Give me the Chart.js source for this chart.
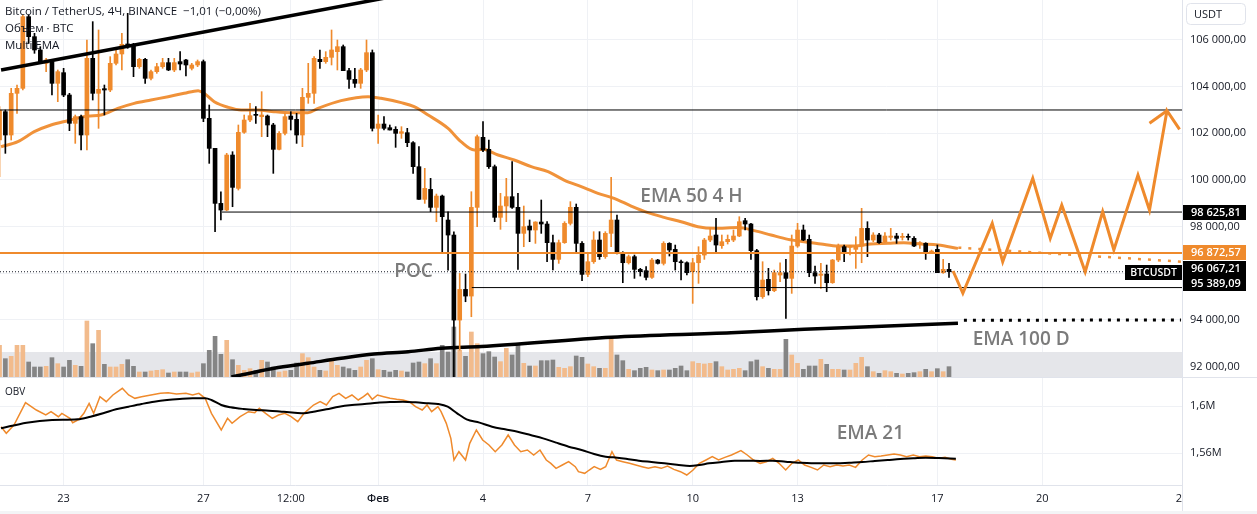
<!DOCTYPE html>
<html><head><meta charset="utf-8">
<script src="https://cdn.jsdelivr.net/npm/chart.js@4.4.1/dist/chart.umd.min.js"></script>
<style>
html,body{margin:0;padding:0;background:#fff;width:1257px;height:514px;overflow:hidden}
#wrap{position:relative;width:1257px;height:514px}
canvas{position:absolute;left:0}
#main{top:0}
#obv{top:377px}
</style></head><body>
<div id="wrap"><canvas id="main" width="1257" height="377"></canvas><canvas id="obv" width="1257" height="137"></canvas></div>
<script>
// ---------- DATA ----------
// time axis in days (Jan n = n, Feb n = 31 + n); 4-hour candles starting Jan 21 04:00
const START_DAY = 21 + 4/24;
const STEP_DAY = 4/24;
// [open, high, low, close]
const ohlc = [
[101713,103143,100141,103000],[102928,103000,101142,101928],[101928,103928,101713,103714],[103714,104071,102857,103928],[103928,107072,103857,107000],
[107000,107072,105857,106143],[106143,106286,105429,105572],[105572,105714,105000,105072],[105000,105215,104643,105143],[105072,105143,103642,104143],
[104143,104715,103357,104643],[104600,104786,103571,103642],[103642,103714,102113,102428],[102428,102785,101570,102714],[102714,102785,101285,101928],
[101928,106000,101285,105215],[105215,106786,103428,103714],[103714,106429,102214,103885],[103914,104071,102785,103857],[103857,105286,103786,105000],
[105000,105572,104929,105400],[105400,106286,104715,105814],[105830,107143,105643,105714],[105786,105857,104429,104857],[104857,105215,104786,105172],
[105172,105215,104143,104357],[104357,104715,104286,104643],[104643,105000,104572,104857],[104857,105215,104786,105029],[105029,105215,104686,104715],
[104715,105215,104643,105029],[105072,105500,104715,104971],[105143,105172,104457,104929],[104786,105000,104715,104929],[104929,105143,104857,105072],
[105072,105143,102499,102642],[102642,103214,100713,101356],[101356,101356,97783,98998],[98998,99498,98284,98713],[98713,101142,98684,101070],
[101070,101213,98855,99684],[99641,102357,99570,102042],[102042,102785,101999,102571],[102571,103285,102499,102757],[102800,103143,102428,102771],
[102714,103786,101856,102785],[102742,102785,101856,102357],[102357,102428,100285,101313],[101313,102071,101285,101999],[101999,102857,101928,102714],
[102742,102928,102142,102599],[102599,102857,101570,101928],[101928,103928,101427,103542],[103542,105000,103285,103714],[103714,105286,103285,105215],
[105172,105572,104786,105072],[105072,105500,105000,105257],[105257,106429,104929,105572],[105500,106000,104715,105714],[105714,105786,104686,104686],
[104686,104786,103928,104314],[104314,104786,103971,104143],[104143,104786,103928,104715],[104715,106000,104643,105457],[105457,105572,102099,102214],
[102214,102785,101570,102399],[102399,102714,102142,102214],[102242,102357,102142,102142],[102171,102285,101399,101999],[101999,102285,101785,102071],
[102028,102214,101427,101599],[101599,101642,100285,100570],[100570,101427,99170,99170],[99170,100499,98998,99641],[99598,100070,98641,98827],
[98827,99398,98212,99312],[99312,99355,96855,98427],[98284,98641,96140,97641],[97641,97783,91300,93997],[93997,95997,92711,95311],
[95311,95969,94782,95026],[95026,99498,94140,98827],[98827,101928,97998,101856],[101828,102499,101213,101285],[101314,101714,100500,100571],
[100571,100642,98213,98399],[98399,99428,97885,98885],[98885,100071,98213,99285],[99285,100785,98785,98828],[98828,99428,96170,97713],
[97713,98885,97141,97999],[98027,98285,97356,97856],[97856,98213,97284,98199],[98199,99142,97713,98113],[98113,98213,96498,97313],
[97313,97642,96141,96598],[96598,97427,96427,97313],[97313,98213,97284,98142],[98142,99071,98070,98828],[98828,98971,96856,97284],
[97284,97356,95684,95955],[95955,96856,95855,96498],[96498,97785,96427,97427],[97427,97785,96598,96713],[96713,97785,96641,97713],
[97713,100114,97141,98285],[98285,98499,96827,96856],[96856,96927,95598,96455],[96455,96784,96398,96713],[96713,96784,95784,96170],
[96170,96213,95884,96070],[96113,96284,95713,95827],[95827,96641,95784,96570],[96570,96598,96398,96427],[96427,97356,96356,97284],
[97284,97313,96741,96999],[97027,97213,96141,96498],[96498,96570,95713,96455],[96455,96498,95927,96027],[96070,96641,94712,96455],
[96455,97141,95570,96784],[96784,97499,96598,97427],[97427,97956,97356,97599],[97642,98356,96927,97213],[97185,97642,97070,97356],
[97356,97642,97256,97456],[97427,97856,97356,97599],[97599,98427,97570,98213],[98256,98356,97856,98113],[98113,98142,96598,96970],
[96970,97027,94855,94998],[94998,96498,94926,95713],[95741,96213,95069,95255],[95255,96141,95212,96027],[95927,96455,95641,96027],
[96027,96598,94069,95784],[95784,97642,95141,97170],[97170,98142,97113,97856],[97856,98070,97399,97427],[97456,97642,95855,96027],
[96027,96313,95570,95884],[95913,96427,95355,95970],[95970,96356,95212,95598],[95598,96598,95570,96570],[96570,97256,96498,97141],
[97141,97213,96498,96927],[97113,97199,96784,97170],[97027,97570,96213,97170],[97170,98785,96455,97927],[97927,98213,96713,97427],
[97427,97742,97356,97642],[97642,97713,97284,97313],[97356,97742,97313,97599],[97542,97927,97427,97599],[97599,97713,97284,97499],
[97542,97713,97427,97585],[97570,97685,97427,97542],[97499,97570,97141,97170],[97256,97356,97070,97313],[97284,97313,96598,96927],
[96899,96999,96856,96956],[97027,97213,96027,96027],[96027,96598,95998,96170],[96170,96427,95827,96067.21]
];
const volume = [
9500,5500,6200,9500,9500,4500,3000,3000,3200,5800,
4000,3000,5000,3500,3200,16800,10000,14000,3800,3000,
3000,3800,5200,3200,1500,1500,1800,2000,2200,1200,
1500,1500,1500,1200,1500,4000,8000,12200,6800,11000,
5200,3500,2000,2500,2000,5000,4500,3000,1500,1800,
2000,4200,7000,5800,3000,2000,1800,5500,3500,3000,
2500,2000,3000,5000,5500,2200,2000,1500,2000,1800,
1500,4200,4500,4000,5500,4000,9500,7500,15000,8000,
6200,13500,10000,7000,7600,6000,4600,8600,6600,9600,
4100,3300,3300,4900,4900,5100,2900,2600,3100,6300,
5900,3900,3100,2600,2600,11900,6600,4900,2300,1900,
2600,2900,2100,1900,2100,2100,2600,3300,1900,4600,
4100,3900,4100,4600,3100,2100,2300,2600,1900,4600,
5100,3100,2600,2300,2300,11300,6600,4100,2300,3300,
3300,5300,3800,2300,2300,2100,2100,4100,5900,3100,
1600,1100,1900,1600,1100,900,1100,1300,1600,2300,
1600,2500,1600,3100
];
const volumeBandTop = 7500;
// EMA 50 (4H) [day, price]
const ema50 = [[21.21,101427],[21.69,101642],[22.16,102071],[22.64,102357],[23.12,102542],[23.69,102742],[24.07,102785],[24.55,103071],[25.02,103285],[25.50,103428],[25.99,103571],[26.45,103714],[26.85,103828],[27.02,103714],[27.31,103357],[27.71,103114],[28.08,103000],[28.57,103000],[29.02,102928],[29.51,102885],[29.99,102885],[30.28,103071],[30.94,103400],[31.71,103571],[32.08,103500],[32.66,103314],[33.03,103143],[33.43,102785],[34.00,102214],[34.37,101642],[34.75,101285],[35.00,101314],[35.43,101071],[35.89,100857],[36.38,100571],[36.86,100357],[37.32,99999],[37.81,99714],[38.29,99428],[38.75,99214],[39.24,98885],[39.72,98599],[40.18,98399],[40.67,98213],[41.15,97999],[41.61,97930],[42.30,97960],[42.76,97830],[43.24,97642],[43.73,97456],[44.19,97356],[44.67,97256],[45.16,97170],[45.61,97170],[46.10,97256],[46.59,97284],[47.04,97313],[47.53,97256],[48.02,97213],[48.59,97070]];
const ema50Proj = [[48.6,97100],[54.97,96500]];
// EMA 100 (D)
const ema100 = [[27.8,91560],[28.08,91642],[29.02,91929],[29.99,92143],[30.94,92358],[31.88,92542],[32.86,92641],[33.80,92786],[34.95,92860],[38.67,93258],[42.10,93450],[44.19,93600],[46.59,93742],[48.59,93858]];
const ema100Proj = [[48.76,93990],[54.97,94000]];
// upper trend line
const trendLine = [[21.21,104714],[32.66,107929]];
// horizontal levels
const levelPrices = [103000, 98625.81, 95389.09];
const levelStarts = [21.18, 27.53, 34.68];
const pocPrice = 96872.57;
const lastPrice = 96067.21;
// projected path
const projection = [[48.45,96100],[48.73,95144],[49.57,98144],[49.87,96498],[50.73,100072],[51.23,97501],[51.56,98928],[52.23,96069],[52.73,98641],[53.05,97000],[53.74,100214],[54.07,98714],[54.57,102970],[54.93,102173]];
const projectionBarb = [[54.07,102430],[54.57,102970]];
// OBV (millions) and its EMA 21
const obvPoints = [[21.21,1.58241],[21.36,1.57674],[21.58,1.58383],[21.91,1.60284],[22.22,1.59660],[22.49,1.59234],[22.64,1.59518],[22.85,1.59092],[22.95,1.59376],[23.18,1.58950],[23.26,1.58582],[23.44,1.58865],[23.58,1.59376],[23.73,1.60227],[23.86,1.59376],[24.04,1.60795],[24.22,1.60369],[24.41,1.60936],[24.68,1.61504],[24.86,1.60936],[25.04,1.60653],[25.23,1.60795],[25.50,1.60936],[25.77,1.61078],[25.99,1.61135],[26.23,1.61022],[26.50,1.61078],[26.69,1.60936],[26.87,1.61078],[27.05,1.60653],[27.23,1.59376],[27.51,1.57958],[27.69,1.58950],[27.82,1.58525],[28.05,1.59092],[28.29,1.59518],[28.47,1.59433],[28.60,1.59802],[28.78,1.59376],[28.97,1.58950],[29.15,1.59234],[29.33,1.59376],[29.51,1.59092],[29.70,1.58667],[29.88,1.59376],[30.15,1.60085],[30.34,1.60369],[30.52,1.60085],[30.70,1.60795],[30.88,1.61078],[31.07,1.60653],[31.25,1.60936],[31.43,1.60511],[31.58,1.60795],[31.70,1.61078],[31.83,1.60568],[31.98,1.60936],[32.16,1.60795],[32.34,1.60653],[32.53,1.60568],[32.71,1.60511],[32.89,1.60369],[33.07,1.59943],[33.26,1.59660],[33.40,1.60085],[33.53,1.59518],[33.71,1.59943],[33.80,1.59518],[33.95,1.58525],[34.08,1.57248],[34.17,1.55404],[34.31,1.56114],[34.50,1.55404],[34.62,1.56823],[34.81,1.57958],[34.99,1.57106],[35.17,1.56681],[35.35,1.56114],[35.54,1.56681],[35.72,1.57532],[35.90,1.56681],[36.08,1.56114],[36.27,1.56255],[36.45,1.55830],[36.63,1.56255],[36.81,1.55404],[36.94,1.55120],[37.09,1.54695],[37.27,1.54979],[37.45,1.55262],[37.64,1.54837],[37.73,1.54411],[37.91,1.54269],[38.04,1.54553],[38.18,1.54837],[38.36,1.54610],[38.51,1.54837],[38.69,1.56114],[38.82,1.55404],[39.00,1.55262],[39.19,1.55120],[39.37,1.54979],[39.55,1.54837],[39.73,1.54695],[39.92,1.54837],[40.10,1.54695],[40.28,1.54894],[40.46,1.54610],[40.65,1.54411],[40.83,1.54128],[41.01,1.54553],[41.19,1.55120],[41.38,1.55404],[41.56,1.55688],[41.74,1.55404],[41.92,1.55631],[42.11,1.55830],[42.38,1.56199],[42.56,1.55830],[42.74,1.55404],[42.93,1.55120],[43.11,1.55262],[43.29,1.55546],[43.47,1.55120],[43.66,1.54553],[43.84,1.55120],[44.02,1.55404],[44.20,1.54979],[44.39,1.54780],[44.57,1.54553],[44.75,1.54979],[44.93,1.54837],[45.12,1.54979],[45.30,1.54894],[45.48,1.54979],[45.66,1.54780],[45.85,1.55404],[46.03,1.55830],[46.21,1.55688],[46.39,1.55745],[46.58,1.55830],[46.76,1.55915],[46.94,1.55830],[47.12,1.55688],[47.31,1.55830],[47.49,1.55688],[47.67,1.55745],[47.85,1.55688],[48.04,1.55546],[48.22,1.55631],[48.40,1.55461],[48.53,1.55404]];
const obvEma21 = [[21.21,1.58099],[21.94,1.58582],[22.67,1.58809],[23.40,1.58865],[23.77,1.59092],[24.13,1.59376],[24.50,1.59716],[24.86,1.59943],[25.23,1.60170],[25.59,1.60369],[25.96,1.60511],[26.32,1.60596],[26.69,1.60653],[27.05,1.60653],[27.23,1.60511],[27.51,1.60085],[27.78,1.59887],[28.15,1.59745],[28.51,1.59660],[28.88,1.59603],[29.24,1.59518],[29.61,1.59433],[29.88,1.59376],[30.15,1.59518],[30.52,1.59716],[30.88,1.59943],[31.25,1.60085],[31.61,1.60170],[31.98,1.60284],[32.34,1.60340],[32.71,1.60369],[33.07,1.60312],[33.44,1.60227],[33.71,1.60170],[33.99,1.59943],[34.26,1.59376],[34.53,1.58865],[34.90,1.58582],[35.26,1.58241],[35.63,1.58014],[35.99,1.57816],[36.36,1.57532],[36.72,1.57248],[37.09,1.56880],[37.45,1.56539],[37.82,1.56255],[38.18,1.55915],[38.51,1.55688],[38.73,1.55631],[39.09,1.55518],[39.46,1.55347],[39.82,1.55234],[40.19,1.55120],[40.55,1.55007],[40.92,1.54894],[41.19,1.54979],[41.47,1.55120],[41.83,1.55234],[42.20,1.55347],[42.56,1.55347],[42.93,1.55319],[43.29,1.55347],[43.66,1.55262],[44.02,1.55177],[44.39,1.55120],[44.75,1.55120],[45.12,1.55120],[45.48,1.55177],[45.85,1.55234],[46.21,1.55319],[46.58,1.55404],[46.94,1.55489],[47.31,1.55546],[47.67,1.55603],[48.04,1.55574],[48.53,1.55518]];
// axes
const xTickDays = [23,27,29.5,32,35,38,41,44,48,51,55];
const xTickLabels = ['23','27','12:00','Фев','4','7','10','13','17','20','24'];
const priceTicks = [92000,94000,96000,98000,100000,102000,104000,106000];
const hiddenPriceTicks = [96000];
const obvTicks = [1.56,1.6];
const obvTickLabels = ['1,56M','1,6M'];
// annotations [text, day, value]
const mainNotes = [['EMA 50 4 H',39.50,99271],['POC',32.46,96070],['EMA 100 D',49.01,93142]];
const obvNotes = [['EMA 21',45.12,1.57677]];
const legendLines = ['Bitcoin / TetherUS, 4Ч, BINANCE  −1,01 (−0,00%)','Объем · BTC','Multi EMA'];
const axisLabelPrices = [98625.81, 96872.57, 96067.21, 95389.09];

// ---------- STYLE ----------
const X_MIN = 21.18, X_MAX = 55.0;
const P_MIN = 91557, P_MAX = 107714;
const VOL_MAX = 113100;
const OBV_MIN = 1.53277, OBV_MAX = 1.62383;
const GRID = '#eff1f5', AXIS = '#e0e3eb', TEXT = '#131722';
const UP = '#ef8a2c', DOWN = '#000000';
const VOL_UP = '#f2bb8c', VOL_DOWN = '#858585';
const EMA_OR = '#f0923a';
const NOTE = '#7b7b7b';
const FONT = '"Open Sans", sans-serif';
const axisLabelBg = ['#000000', UP, '#000000', '#000000'];
const axisLabelNudge = [0, -0.5, -3, -4.5];

const times = ohlc.map((_, i) => START_DAY + i * STEP_DAY);
const isUp = ohlc.map(r => r[3] >= r[0]);
const pts = arr => arr.map(([x, y]) => ({x, y}));

function fmtPrice(v){
  const [a, b] = v.toFixed(2).split('.');
  return a.replace(/\B(?=(\d{3})+(?!\d))/g, ' ') + ',' + b;
}
function noPadY(s){ s.width = 75; s.paddingTop = 0; s.paddingBottom = 0; }
function noPadX(h){ return s => { s.height = h; s.paddingLeft = 0; s.paddingRight = 0; }; }

const lineBase = {type:'line', pointRadius:0, pointHoverRadius:0, fill:false};

const datasets = [
  {type:'bar', yAxisID:'vol', data: times.map((x,i)=>({x, y: volume[i]})),
   backgroundColor: isUp.map(u => u ? VOL_UP : VOL_DOWN), barThickness:4, grouped:false, order:90},
  {...lineBase, data: pts(ema100), borderColor:'#000', borderWidth:3.5, cubicInterpolationMode:'monotone', order:60},
  {...lineBase, data: pts(ema100Proj), borderColor:'#000', borderWidth:3, borderDash:[3,6], order:60},
  {...lineBase, data: pts(ema50), borderColor:EMA_OR, borderWidth:3, cubicInterpolationMode:'monotone', order:60},
  {...lineBase, data: pts(ema50Proj), borderColor:EMA_OR, borderWidth:2.5, borderDash:[3,7], order:60},
  {type:'bar', data: times.map((x,i)=>({x, y:[ohlc[i][2], ohlc[i][1]]})),
   backgroundColor: isUp.map(u => u ? UP : DOWN), barThickness:1, grouped:false, order:40},
  {type:'bar', data: times.map((x,i)=>({x, y:[ohlc[i][0], ohlc[i][3]]})),
   backgroundColor: isUp.map(u => u ? UP : DOWN), barThickness:4, grouped:false, minBarLength:1, order:30},
  ...levelPrices.map((p, k) => ({...lineBase, data:[{x:levelStarts[k], y:p},{x:X_MAX, y:p}], borderColor:'#000', borderWidth:1, order:20})),
  {...lineBase, data:[{x:X_MIN,y:pocPrice},{x:X_MAX,y:pocPrice}], borderColor:UP, borderWidth:2, order:20},
  {...lineBase, data:[{x:X_MIN,y:lastPrice},{x:X_MAX,y:lastPrice}], borderColor:TEXT, borderWidth:1, borderDash:[1,2], order:20},
  {...lineBase, data: pts(trendLine), borderColor:'#000', borderWidth:3.5, order:20},
  {...lineBase, data: pts(projection), borderColor:UP, borderWidth:3, order:10},
  {...lineBase, data: pts(projectionBarb), borderColor:UP, borderWidth:3, order:10}
];

const mainDecor = {
  id:'mainDecor',
  beforeDatasetsDraw(chart){
    const {ctx, chartArea:a, scales} = chart;
    const yTop = scales.vol.getPixelForValue(volumeBandTop);
    ctx.save();
    ctx.fillStyle = '#e5e6ea';
    ctx.fillRect(a.left, yTop, a.right - a.left, a.bottom - yTop);
    ctx.restore();
  },
  afterDraw(chart){
    const {ctx, chartArea:a, scales} = chart;
    const sx = scales.x, sy = scales.y;
    ctx.save();
    ctx.font = '600 19px ' + FONT;
    ctx.fillStyle = NOTE;
    ctx.textBaseline = 'middle';
    ctx.textAlign = 'left';
    mainNotes.forEach(([t, d, p]) => ctx.fillText(t, sx.getPixelForValue(d), sy.getPixelForValue(p)));
    ctx.font = '11.5px ' + FONT;
    ctx.fillStyle = TEXT;
    legendLines.forEach((t, i) => ctx.fillText(t, 5, 12 + i * 16.7));
    const ax = a.right + 1;
    axisLabelPrices.forEach((p, i) => {
      const y = sy.getPixelForValue(p) + axisLabelNudge[i];
      ctx.fillStyle = axisLabelBg[i];
      ctx.fillRect(ax, Math.round(y - 7.5), 63, 15);
      ctx.fillStyle = '#ffffff';
      ctx.font = '600 11px ' + FONT;
      ctx.textAlign = 'left';
      ctx.fillText(fmtPrice(p), ax + 8, y + 0.5);
    });
    const ly = sy.getPixelForValue(lastPrice) + 0.8;
    ctx.fillStyle = '#000';
    ctx.fillRect(a.right - 57, Math.round(ly - 7.5), 57, 15);
    ctx.fillStyle = '#fff';
    ctx.font = '600 10.5px ' + FONT;
    ctx.textAlign = 'center';
    ctx.fillText('BTCUSDT', a.right - 28.5, ly + 0.5);
    ctx.beginPath();
    ctx.roundRect(a.right + 4.5, 3.5, 59, 21, 4);
    ctx.fillStyle = '#fff'; ctx.fill();
    ctx.strokeStyle = AXIS; ctx.lineWidth = 1; ctx.stroke();
    ctx.fillStyle = TEXT;
    ctx.font = '11px ' + FONT;
    ctx.textAlign = 'left';
    ctx.fillText('USDT', a.right + 12, 14.5);
    ctx.restore();
  }
};

new Chart(document.getElementById('main'), {
  type:'bar',
  data:{datasets},
  options:{
    responsive:false, animation:false, devicePixelRatio:1, events:[],
    layout:{padding:0, autoPadding:false},
    plugins:{legend:{display:false}, tooltip:{enabled:false}},
    scales:{
      x:{type:'linear', min:X_MIN, max:X_MAX, offset:false,
         grid:{color:GRID, drawTicks:false, offset:false}, border:{display:false},
         ticks:{display:false},
         afterBuildTicks: s => { s.ticks = xTickDays.map(v => ({value:v})); },
         afterFit: noPadX(0)},
      y:{type:'linear', position:'right', min:P_MIN, max:P_MAX,
         grid:{color:GRID, drawTicks:false}, border:{display:true, color:AXIS},
         ticks:{padding:8, color:TEXT, font:{family:'Open Sans', size:11},
                callback: v => hiddenPriceTicks.includes(v) ? '' : fmtPrice(v)},
         afterBuildTicks: s => { s.ticks = priceTicks.map(v => ({value:v})); },
         afterFit: noPadY},
      vol:{type:'linear', display:false, min:0, max:VOL_MAX}
    }
  },
  plugins:[mainDecor]
});

const obvDecor = {
  id:'obvDecor',
  afterDraw(chart){
    const {ctx, chartArea:a, scales} = chart;
    ctx.save();
    ctx.font = '600 19px ' + FONT;
    ctx.fillStyle = NOTE;
    ctx.textBaseline = 'middle';
    ctx.textAlign = 'left';
    obvNotes.forEach(([t, d, v]) => ctx.fillText(t, scales.x.getPixelForValue(d), scales.y.getPixelForValue(v)));
    ctx.font = '10px ' + FONT;
    ctx.fillStyle = TEXT;
    ctx.fillText('OBV', 5, 15);
    ctx.fillStyle = '#fff';
    ctx.fillRect(a.right + 0.5, a.bottom + 1, 80, 40);
    ctx.strokeStyle = AXIS; ctx.lineWidth = 1;
    ctx.beginPath();
    ctx.moveTo(0, 0.5); ctx.lineTo(chart.width, 0.5);
    ctx.moveTo(a.right + 0.5, 0); ctx.lineTo(a.right + 0.5, chart.height);
    ctx.stroke();
    ctx.fillStyle = '#f3f4f6';
    ctx.fillRect(0, chart.height - 3, chart.width, 3);
    ctx.restore();
  }
};

new Chart(document.getElementById('obv'), {
  type:'line',
  data:{datasets:[
    {...lineBase, data: pts(obvPoints), borderColor:UP, borderWidth:1.5, order:20},
    {...lineBase, data: pts(obvEma21), borderColor:'#000', borderWidth:2, cubicInterpolationMode:'monotone', order:10}
  ]},
  options:{
    responsive:false, animation:false, devicePixelRatio:1, events:[],
    layout:{padding:{top:1, left:0, right:0, bottom:0}, autoPadding:false},
    plugins:{legend:{display:false}, tooltip:{enabled:false}},
    scales:{
      x:{type:'linear', min:X_MIN, max:X_MAX, offset:false,
         grid:{color:GRID, drawTicks:false}, border:{display:true, color:AXIS},
         ticks:{autoSkip:false, maxRotation:0, minRotation:0, padding:7, color:TEXT,
                font: c => ({family:'Open Sans', size:11, weight: (c.tick && c.tick.value === 32) ? '600' : 'normal'}),
                callback: (v, i) => xTickLabels[i]},
         afterBuildTicks: s => { s.ticks = xTickDays.map(v => ({value:v})); },
         afterFit: noPadX(29)},
      y:{type:'linear', position:'right', min:OBV_MIN, max:OBV_MAX,
         grid:{color:GRID, drawTicks:false}, border:{display:true, color:AXIS},
         ticks:{padding:8, color:TEXT, font:{family:'Open Sans', size:11},
                callback: (v, i) => obvTickLabels[i]},
         afterBuildTicks: s => { s.ticks = obvTicks.map(v => ({value:v})); },
         afterFit: noPadY}
    }
  },
  plugins:[obvDecor]
});
</script>
</body></html>
